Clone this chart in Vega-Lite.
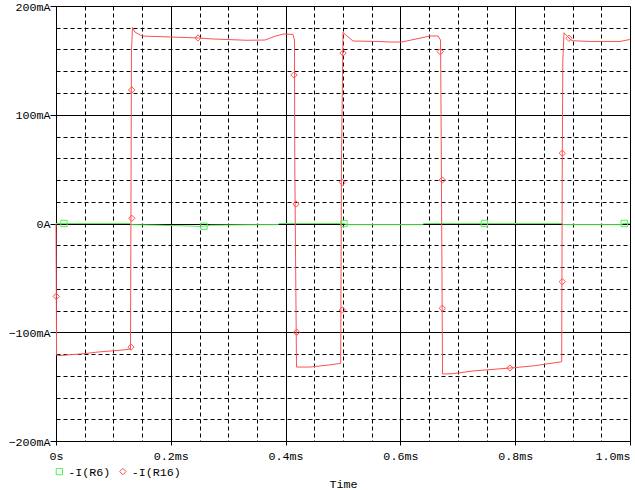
{
  "$schema": "https://vega.github.io/schema/vega-lite/v6.json",
  "width": 574,
  "height": 435,
  "autosize": {"type": "none"},
  "padding": {"left": 56, "top": 6, "right": 5, "bottom": 49},
  "background": "white",
  "config": {
    "view": {"stroke": null},
    "font": "Liberation Mono",
    "legend": {
      "padding": 0,
      "labelFont": "Liberation Mono",
      "labelFontSize": 11.7,
      "labelColor": "black",
      "labelOffset": 3,
      "columnPadding": 6.5,
      "symbolStrokeWidth": 1,
      "symbolSize": 40
    }
  },
  "datasets": {
    "lines": [
      {"s": "-I(R6)", "t": 0, "i": 0},
      {"s": "-I(R6)", "t": 0.129, "i": 0},
      {"s": "-I(R6)", "t": 0.13, "i": -1.1},
      {"s": "-I(R6)", "t": 0.1754, "i": -1.5},
      {"s": "-I(R6)", "t": 0.2317, "i": -2.3},
      {"s": "-I(R6)", "t": 0.2509, "i": -2.8},
      {"s": "-I(R6)", "t": 0.2578, "i": -2.5},
      {"s": "-I(R6)", "t": 0.2683, "i": -1.6},
      {"s": "-I(R6)", "t": 0.331, "i": -1.2},
      {"s": "-I(R6)", "t": 0.3868, "i": -1.1},
      {"s": "-I(R6)", "t": 0.3885, "i": 0},
      {"s": "-I(R6)", "t": 0.5017, "i": 0},
      {"s": "-I(R6)", "t": 0.506, "i": -1.1},
      {"s": "-I(R6)", "t": 0.6389, "i": -1.1},
      {"s": "-I(R6)", "t": 0.6402, "i": 0},
      {"s": "-I(R6)", "t": 0.882, "i": 0},
      {"s": "-I(R6)", "t": 0.8833, "i": -1.1},
      {"s": "-I(R6)", "t": 0.9855, "i": -1.1},
      {"s": "-I(R6)", "t": 0.9878, "i": 0},
      {"s": "-I(R6)", "t": 1.0, "i": 0},
      {"s": "-I(R16)", "t": 0, "i": 0},
      {"s": "-I(R16)", "t": 0.001, "i": -121},
      {"s": "-I(R16)", "t": 0.007, "i": -121.4},
      {"s": "-I(R16)", "t": 0.042, "i": -120},
      {"s": "-I(R16)", "t": 0.077, "i": -118},
      {"s": "-I(R16)", "t": 0.117, "i": -116.3},
      {"s": "-I(R16)", "t": 0.1298, "i": -115.4},
      {"s": "-I(R16)", "t": 0.1315, "i": 157.7},
      {"s": "-I(R16)", "t": 0.1333, "i": 180.2},
      {"s": "-I(R16)", "t": 0.1376, "i": 176},
      {"s": "-I(R16)", "t": 0.1498, "i": 172.4},
      {"s": "-I(R16)", "t": 0.1986, "i": 171.5},
      {"s": "-I(R16)", "t": 0.2474, "i": 170.6},
      {"s": "-I(R16)", "t": 0.272, "i": 169.7},
      {"s": "-I(R16)", "t": 0.331, "i": 168.5},
      {"s": "-I(R16)", "t": 0.364, "i": 168.7},
      {"s": "-I(R16)", "t": 0.383, "i": 172.4},
      {"s": "-I(R16)", "t": 0.397, "i": 174.3},
      {"s": "-I(R16)", "t": 0.413, "i": 173.8},
      {"s": "-I(R16)", "t": 0.4155, "i": 168.7},
      {"s": "-I(R16)", "t": 0.416, "i": 53.8},
      {"s": "-I(R16)", "t": 0.419, "i": -132},
      {"s": "-I(R16)", "t": 0.4425, "i": -132},
      {"s": "-I(R16)", "t": 0.477, "i": -130},
      {"s": "-I(R16)", "t": 0.496, "i": -128.6},
      {"s": "-I(R16)", "t": 0.4974, "i": 58.4},
      {"s": "-I(R16)", "t": 0.5, "i": 175.8},
      {"s": "-I(R16)", "t": 0.505, "i": 173.3},
      {"s": "-I(R16)", "t": 0.5174, "i": 167.8},
      {"s": "-I(R16)", "t": 0.559, "i": 167.4},
      {"s": "-I(R16)", "t": 0.582, "i": 166.9},
      {"s": "-I(R16)", "t": 0.6028, "i": 166.9},
      {"s": "-I(R16)", "t": 0.6516, "i": 172.4},
      {"s": "-I(R16)", "t": 0.6655, "i": 172.4},
      {"s": "-I(R16)", "t": 0.6699, "i": 168.7},
      {"s": "-I(R16)", "t": 0.6707, "i": 113.6},
      {"s": "-I(R16)", "t": 0.6734, "i": -138.4},
      {"s": "-I(R16)", "t": 0.6916, "i": -138.1},
      {"s": "-I(R16)", "t": 0.7265, "i": -135.6},
      {"s": "-I(R16)", "t": 0.7909, "i": -132.9},
      {"s": "-I(R16)", "t": 0.831, "i": -131},
      {"s": "-I(R16)", "t": 0.881, "i": -127.1},
      {"s": "-I(R16)", "t": 0.882, "i": 58.4},
      {"s": "-I(R16)", "t": 0.883, "i": 150},
      {"s": "-I(R16)", "t": 0.885, "i": 175.4},
      {"s": "-I(R16)", "t": 0.892, "i": 171.5},
      {"s": "-I(R16)", "t": 0.8984, "i": 168.1},
      {"s": "-I(R16)", "t": 0.93, "i": 167.4},
      {"s": "-I(R16)", "t": 0.9826, "i": 167.4},
      {"s": "-I(R16)", "t": 1.0, "i": 169.2}
    ],
    "markers": [
      {"s": "-I(R6)", "t": 0.0139, "i": 0},
      {"s": "-I(R6)", "t": 0.2578, "i": -2.5},
      {"s": "-I(R6)", "t": 0.5017, "i": 0},
      {"s": "-I(R6)", "t": 0.7462, "i": 0},
      {"s": "-I(R6)", "t": 0.99, "i": 0},
      {"s": "-I(R16)", "t": 0.0005, "i": -67},
      {"s": "-I(R16)", "t": 0.1307, "i": -113.6},
      {"s": "-I(R16)", "t": 0.1319, "i": 4.8},
      {"s": "-I(R16)", "t": 0.1319, "i": 122.8},
      {"s": "-I(R16)", "t": 0.2474, "i": 170.6},
      {"s": "-I(R16)", "t": 0.4146, "i": 136.6},
      {"s": "-I(R16)", "t": 0.4181, "i": 17.9},
      {"s": "-I(R16)", "t": 0.4193, "i": -100},
      {"s": "-I(R16)", "t": 0.4988, "i": -79.5},
      {"s": "-I(R16)", "t": 0.4988, "i": 37.9},
      {"s": "-I(R16)", "t": 0.5, "i": 156.8},
      {"s": "-I(R16)", "t": 0.6695, "i": 158},
      {"s": "-I(R16)", "t": 0.673, "i": 40},
      {"s": "-I(R16)", "t": 0.673, "i": -78},
      {"s": "-I(R16)", "t": 0.7909, "i": -132.9},
      {"s": "-I(R16)", "t": 0.882, "i": -53.5},
      {"s": "-I(R16)", "t": 0.882, "i": 64.6},
      {"s": "-I(R16)", "t": 0.8937, "i": 170.3}
    ]
  },
  "encoding": {
    "x": {
      "field": "t",
      "type": "quantitative",
      "scale": {"domain": [0, 1], "nice": false, "zero": false},
      "axis": {
        "values": [0, 0.05, 0.1, 0.15, 0.2, 0.25, 0.3, 0.35, 0.4, 0.45, 0.5, 0.55, 0.6, 0.65, 0.7, 0.75, 0.8, 0.85, 0.9, 0.95, 1.0],
        "grid": true,
        "gridColor": "black",
        "gridOpacity": 1,
        "gridWidth": 1,
        "gridDash": {"condition": {"test": "abs(datum.value*5 - round(datum.value*5)) > 0.001", "value": [4, 3]}, "value": []},
        "domainColor": "black",
        "domainWidth": 1,
        "tickColor": "black",
        "tickSize": 4,
        "tickOpacity": {"condition": {"test": "abs(datum.value*5 - round(datum.value*5)) > 0.001", "value": 0}, "value": 1},
        "labelExpr": "abs(datum.value*5 - round(datum.value*5)) > 0.001 ? '' : (datum.value == 0 ? '0s' : format(datum.value, '.1f') + 'ms')",
        "labelAlign": {"condition": {"test": "datum.value > 0.99", "value": "right"}, "value": "center"},
        "labelBaseline": "alphabetic",
        "labelPadding": 14,
        "labelFont": "Liberation Mono",
        "labelFontSize": 11.7,
        "labelColor": "black",
        "labelOverlap": false,
        "labelBound": false,
        "labelFlush": false,
        "title": "Time",
        "titleFont": "Liberation Mono",
        "titleFontSize": 11.7,
        "titleFontWeight": "normal",
        "titleColor": "black",
        "titleBaseline": "alphabetic",
        "titleY": 46
      }
    },
    "y": {
      "field": "i",
      "type": "quantitative",
      "scale": {"domain": [-200, 200], "nice": false, "zero": false},
      "axis": {
        "values": [-200, -180, -160, -140, -120, -100, -80, -60, -40, -20, 0, 20, 40, 60, 80, 100, 120, 140, 160, 180, 200],
        "grid": true,
        "gridColor": "black",
        "gridOpacity": 1,
        "gridWidth": 1,
        "gridDash": {"condition": {"test": "datum.value % 100 != 0", "value": [4, 3]}, "value": []},
        "domainColor": "black",
        "domainWidth": 1,
        "tickColor": "black",
        "tickSize": 6,
        "tickOpacity": {"condition": {"test": "datum.value % 100 != 0", "value": 0}, "value": 1},
        "labelExpr": "datum.value % 100 != 0 ? '' : (datum.value == 0 ? '0A' : format(datum.value, 'd') + 'mA')",
        "labelBaseline": "middle",
        "labelPadding": 0,
        "labelFont": "Liberation Mono",
        "labelFontSize": 11.7,
        "labelColor": "black",
        "labelOverlap": false,
        "labelBound": false,
        "labelFlush": false,
        "title": null
      }
    }
  },
  "layer": [
    {
      "data": {"name": "lines"},
      "transform": [{"filter": "datum.s == '-I(R6)'"}],
      "mark": {"type": "line", "strokeWidth": 1, "color": "#55ee55"},
      "encoding": {"order": {"field": "t", "type": "quantitative"}}
    },
    {
      "data": {"name": "lines"},
      "transform": [{"filter": "datum.s == '-I(R16)'"}],
      "mark": {"type": "line", "strokeWidth": 1, "color": "#ff5050"},
      "encoding": {"order": {"field": "t", "type": "quantitative"}}
    },
    {
      "data": {"name": "markers"},
      "mark": {"type": "point", "filled": false, "strokeWidth": 1, "size": 40, "opacity": 1},
      "encoding": {
        "color": {
          "field": "s",
          "type": "nominal",
          "scale": {"domain": ["-I(R6)", "-I(R16)"], "range": ["#55ee55", "#ff5050"]},
          "legend": {"title": null, "orient": "none", "legendX": -2.5, "legendY": 459.5, "direction": "horizontal"}
        },
        "shape": {
          "field": "s",
          "type": "nominal",
          "scale": {"domain": ["-I(R6)", "-I(R16)"], "range": ["square", "diamond"]},
          "legend": {"title": null, "orient": "none", "legendX": -2.5, "legendY": 459.5, "direction": "horizontal"}
        }
      }
    }
  ]
}
